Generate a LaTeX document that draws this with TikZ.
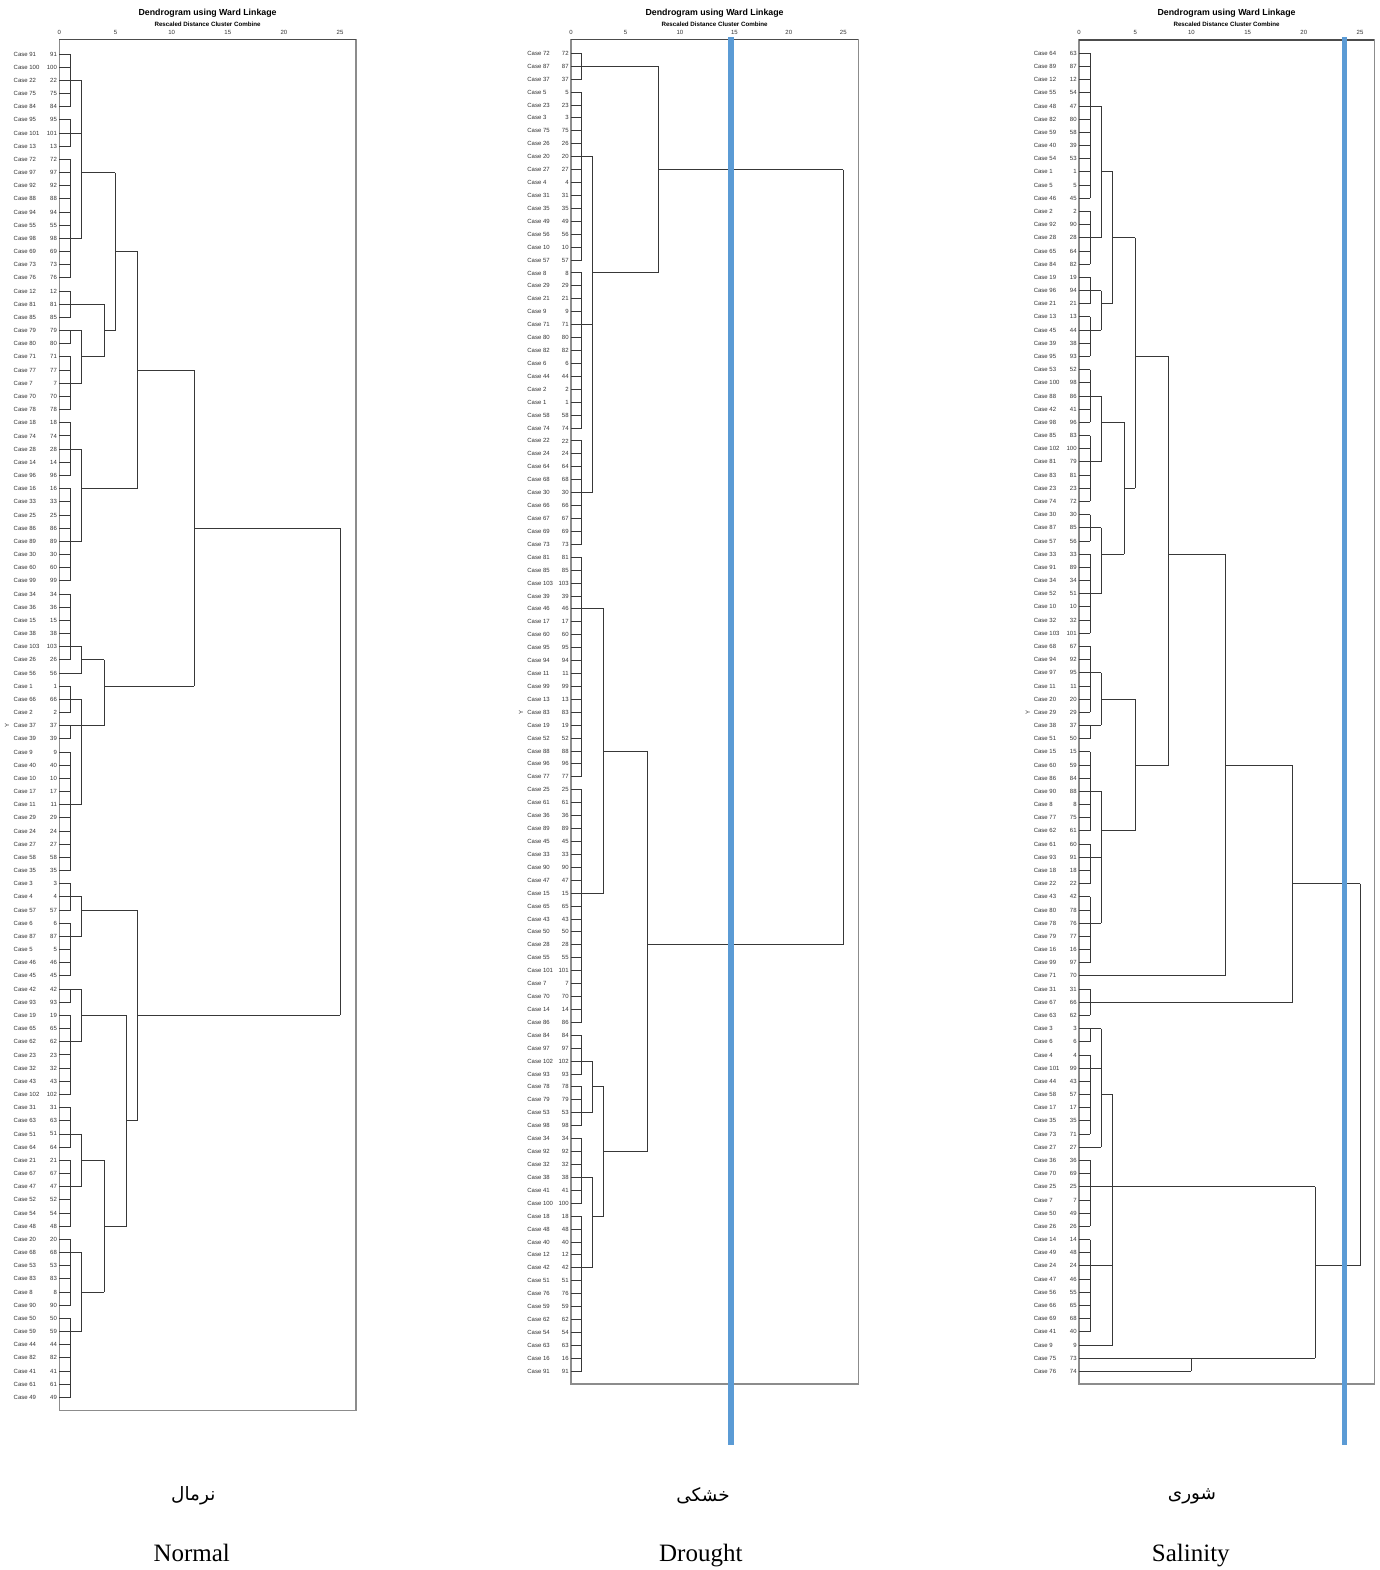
\documentclass[tikz,border=0pt]{standalone}
\usepackage{fontspec}
\setmainfont{Liberation Serif}
\newfontfamily\arialf{Liberation Sans}
\newfontfamily\fafont[Script=Arabic]{DejaVu Sans}
\TeXXeTstate=1
\definecolor{cutblue}{RGB}{91,155,213}
\tikzset{
  tree/.style={draw=black!78, line width=0.45pt},
  framebox/.style={draw=black!45, line width=0.55pt},
  axisline/.style={draw=black!70, line width=0.6pt},
  lbl/.style={inner sep=0pt, font=\arialf\fontsize{3}{3.6}\selectfont, text=black!80},
  ttl/.style={inner sep=0pt, font=\arialf\bfseries\fontsize{4.4}{5}\selectfont},
  sttl/.style={inner sep=0pt, font=\arialf\bfseries\fontsize{3.1}{3.6}\selectfont},
  cutline/.style={draw=cutblue, line width=2.6pt},
  engl/.style={inner sep=0pt, font=\fontsize{12.5}{14}\selectfont},
  pers/.style={inner sep=0pt, font=\fafont\fontsize{9.2}{12}\selectfont}
}
\newcommand\Vl[3]{\draw[tree] (#1,#2) -- (#1,#3);}
\newcommand\Hl[3]{\draw[tree] (#2,#1) -- (#3,#1);}
\begin{document}
\begin{tikzpicture}[x=0.5pt,y=-0.5pt]
\useasboundingbox (0,0) rectangle (1380,1570);
\fill[white] (0,0) rectangle (1380,1570);

% ================= Panel 1 : Normal =================
\node[ttl] (t1) at (207.6,13.3) {Dendrogram using Ward Linkage};
\node[sttl] (s1) at (207.6,24) {Rescaled Distance Cluster Combine};
\foreach \k [evaluate=\k as \xx using 59.3+\k*11.23] in {0,5,...,25}{
  \node[lbl] at (\xx,32) {\k};}
\draw[framebox] (59.3,39.5) rectangle (356,1410.7);
\draw[axisline] (59.3,39.5) -- (356,39.5);
\node[lbl,rotate=90] (y1) at (7,725.7) {Y};
\begin{scope}[shift={(59.3,40.83)}, xscale=11.23, yscale=13.17]
\foreach \n [count=\i] in {91,100,22,75,84,95,101,13,72,97,92,88,94,55,98,69,73,76,12,81,85,79,80,71,77,7,70,78,18,74,28,14,96,16,33,25,86,89,30,60,99,34,36,15,38,103,26,56,1,66,2,37,39,9,40,10,17,11,29,24,27,58,35,3,4,57,6,87,5,46,45,42,93,19,65,62,23,32,43,102,31,63,51,64,21,67,47,52,54,48,20,68,53,83,8,90,50,59,44,82,41,61,49}{
  \node[lbl,anchor=west,xshift=-23pt] at (0,\i) {Case \n};
  \node[lbl,anchor=east,xshift=-1pt] at (0,\i) {\n};
  \ifnum\i=48 \Hl{\i}{0}{2}\else \Hl{\i}{0}{1}\fi
}
\foreach \a/\b in {1/5,6/8,9/18,19/21,22/23,24/28,29/33,34/41,42/47,49/51,52/53,54/63,64/66,67/71,72/73,74/80,81/84,85/90,91/96,97/103}{\Vl{1}{\a}{\b}}
\foreach \r in {3,7,15,22,26,31,38,46,50,52,58,65,68,72,76,83,87,92,98}{\Hl{\r}{1}{2}}
\Hl{20}{1}{4}
\foreach \a/\b in {3/15,22/26,31/38,46/48,50/58,65/68,72/76,83/87,92/98}{\Vl{2}{\a}{\b}}
\Hl{10}{2}{5} \Hl{24}{2}{4} \Vl{4}{20}{24} \Hl{22}{4}{5}
\Vl{5}{10}{22} \Hl{16}{5}{7}
\Hl{34}{2}{7} \Vl{7}{16}{34} \Hl{25}{7}{12}
\Hl{47}{2}{4} \Hl{52}{2}{4} \Vl{4}{47}{52} \Hl{49}{4}{12}
\Vl{12}{25}{49} \Hl{37}{12}{25}
\Hl{66}{2}{7} \Hl{74}{2}{6}
\Hl{85}{2}{4} \Hl{95}{2}{4} \Vl{4}{85}{95} \Hl{90}{4}{6}
\Vl{6}{74}{90} \Hl{82}{6}{7}
\Vl{7}{66}{82} \Hl{74}{7}{25}
\Vl{25}{37}{74}
\end{scope}

% ================= Panel 2 : Drought =================
\node[ttl] (t2) at (714.6,13.3) {Dendrogram using Ward Linkage};
\node[sttl] (s2) at (714.6,24) {Rescaled Distance Cluster Combine};
\foreach \k [evaluate=\k as \xx using 571+\k*10.89] in {0,5,...,25}{
  \node[lbl] at (\xx,32) {\k};}
\draw[framebox] (571,39.3) rectangle (858.3,1384);
\draw[axisline] (571,39.3) -- (858.3,39.3);
\node[lbl,rotate=90] (y2) at (521,712.2) {Y};
\begin{scope}[shift={(571,40.38)}, xscale=10.89, yscale=12.92]
\foreach \n [count=\i] in {72,87,37,5,23,3,75,26,20,27,4,31,35,49,56,10,57,8,29,21,9,71,80,82,6,44,2,1,58,74,22,24,64,68,30,66,67,69,73,81,85,103,39,46,17,60,95,94,11,99,13,83,19,52,88,96,77,25,61,36,89,45,33,90,47,15,65,43,50,28,55,101,7,70,14,86,84,97,102,93,78,79,53,98,34,92,32,38,41,100,18,48,40,12,42,51,76,59,62,54,63,16,91}{
  \node[lbl,anchor=west,xshift=-22pt] at (0,\i) {Case \n};
  \node[lbl,anchor=east,xshift=-1pt] at (0,\i) {\n};
  \Hl{\i}{0}{1}
}
\foreach \a/\b in {1/3,4/17,18/30,31/39,40/57,58/76,77/80,81/84,85/90,91/103}{\Vl{1}{\a}{\b}}
\Hl{2}{1}{8}
\foreach \r in {9,22,35,79,83,88,95}{\Hl{\r}{1}{2}}
\foreach \a/\b in {9/35,79/83,88/95}{\Vl{2}{\a}{\b}}
\Hl{18}{2}{8} \Vl{8}{2}{18} \Hl{10}{8}{25}
\Hl{44}{1}{3} \Hl{66}{1}{3} \Vl{3}{44}{66} \Hl{55}{3}{7}
\Hl{81}{2}{3} \Hl{91}{2}{3} \Vl{3}{81}{91} \Hl{86}{3}{7}
\Vl{7}{55}{86} \Hl{70}{7}{25}
\Vl{25}{10}{70}
\end{scope}
\draw[cutline] (731,37) -- (731,1445);

% ================= Panel 3 : Salinity =================
\node[ttl] (t3) at (1226.6,13.3) {Dendrogram using Ward Linkage};
\node[sttl] (s3) at (1226.6,24) {Rescaled Distance Cluster Combine};
\foreach \k [evaluate=\k as \xx using 1079+\k*11.24] in {0,5,...,25}{
  \node[lbl] at (\xx,32) {\k};}
\draw[framebox] (1079,40) rectangle (1374.3,1384);
\draw[axisline] (1079,40) -- (1374.3,40);
\node[lbl,rotate=90] (y3) at (1027.7,712.3) {Y};
\begin{scope}[shift={(1079,40.12)}, xscale=11.24, yscale=13.18]
\foreach \c/\n [count=\i] in {64/63,89/87,12/12,55/54,48/47,82/80,59/58,40/39,54/53,1/1,5/5,46/45,2/2,92/90,28/28,65/64,84/82,19/19,96/94,21/21,13/13,45/44,39/38,95/93,53/52,100/98,88/86,42/41,98/96,85/83,102/100,81/79,83/81,23/23,74/72,30/30,87/85,57/56,33/33,91/89,34/34,52/51,10/10,32/32,103/101,68/67,94/92,97/95,11/11,20/20,29/29,38/37,51/50,15/15,60/59,86/84,90/88,8/8,77/75,62/61,61/60,93/91,18/18,22/22,43/42,80/78,78/76,79/77,16/16,99/97,71/70,31/31,67/66,63/62,3/3,6/6,4/4,101/99,44/43,58/57,17/17,35/35,73/71,27/27,36/36,70/69,25/25,7/7,50/49,26/26,14/14,49/48,24/24,47/46,56/55,66/65,69/68,41/40,9/9,75/73,76/74}{
  \node[lbl,anchor=west,xshift=-22.8pt] at (0,\i) {Case \c};
  \node[lbl,anchor=east,xshift=-1pt] at (0,\i) {\n};
}
\foreach \r/\d in {71/13,84/2,99/3,100/10,101/10}{\Hl{\r}{0}{\d}}
\foreach \a/\b in {1/12,13/17,18/20,21/24,25/29,30/35,36/38,39/45,46/51,52/53,54/60,61/64,65/70,72/74,75/76,77/83,85/90,91/98}{
  \Vl{1}{\a}{\b}
  \foreach \r in {\a,...,\b}{\Hl{\r}{0}{1}}
}
\foreach \r in {5,15,19,22,27,32,37,42,48,52,57,62,67,75,78}{\Hl{\r}{1}{2}}
\foreach \a/\b in {5/15,19/22,27/32,37/42,48/52,57/67,75/84}{\Vl{2}{\a}{\b}}
\Hl{10}{2}{3} \Hl{20}{2}{3} \Vl{3}{10}{20} \Hl{15}{3}{5}
\Hl{29}{2}{4} \Hl{39}{2}{4} \Vl{4}{29}{39} \Hl{34}{4}{5}
\Vl{5}{15}{34} \Hl{24}{5}{8}
\Hl{50}{2}{5} \Hl{60}{2}{5} \Vl{5}{50}{60} \Hl{55}{5}{8}
\Vl{8}{24}{55} \Hl{39}{8}{13}
\Vl{13}{39}{71} \Hl{55}{13}{19}
\Hl{73}{1}{19}
\Vl{19}{55}{73} \Hl{64}{19}{25}
\Hl{80}{2}{3} \Hl{87}{1}{3} \Hl{93}{1}{3} \Vl{3}{80}{99} \Hl{87}{3}{21}
\Vl{10}{100}{101} \Hl{100}{10}{21}
\Vl{21}{87}{100} \Hl{93}{21}{25}
\Vl{25}{64}{93}
\end{scope}
\draw[cutline] (1344.3,37) -- (1344.3,1445);

% ================= Captions =================
\node[pers] (p1) at (193.3,1496) {\beginR نرمال\endR};
\node[pers] (p2) at (703,1496) {\beginR خشکی\endR};
\node[pers] (p3) at (1192,1496) {\beginR شوری\endR};
\node[engl,anchor=base] (e1) at (191.7,1561.7) {Normal};
\node[engl,anchor=base] (e2) at (700.8,1561.7) {Drought};
\node[engl,anchor=base] (e3) at (1190.8,1561.7) {Salinity};
\end{tikzpicture}
\end{document}
